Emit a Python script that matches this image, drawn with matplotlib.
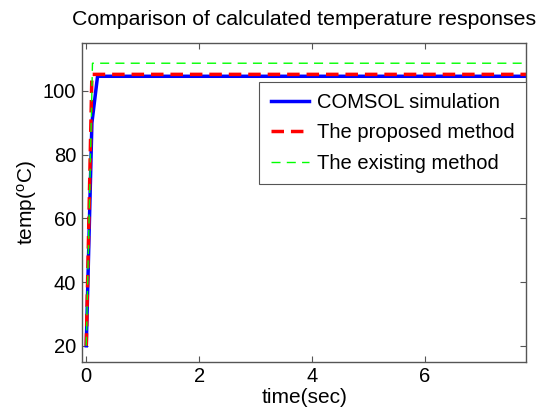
import matplotlib
matplotlib.use("Agg")
import matplotlib.pyplot as plt

plt.rcParams["font.family"] = ["Liberation Sans", "DejaVu Sans"]
plt.rcParams["mathtext.fontset"] = "custom"
plt.rcParams["mathtext.rm"] = "Liberation Sans"

# Temperature responses (time in sec, temperature in degC)
t_comsol = [0.0, 0.1, 0.2, 7.8]
T_comsol = [20.0, 90.0, 104.6, 104.6]

t_proposed = [0.0, 0.1, 7.8]
T_proposed = [20.0, 105.2, 105.2]

t_existing = [0.0, 0.1, 0.11, 7.8]
T_existing = [20.0, 100.0, 108.7, 108.7]

x_ticks = [0, 2, 4, 6]
y_ticks = [20, 40, 60, 80, 100]

fig = plt.figure(figsize=(5.45, 4.11), dpi=100)
ax = fig.add_axes([0.150, 0.120, 0.816, 0.775])

ax.plot(t_comsol, T_comsol, color="#0000ff", lw=2.5, label="COMSOL simulation")
ax.plot(t_proposed, T_proposed, color="#ff0000", lw=2.5, ls=(0, (3.6, 2.0)),
        label="The proposed method")
ax.plot(t_existing, T_existing, color="#00ff00", lw=1.0, ls=(0, (6.5, 4.5)),
        label="The existing method")

ax.set_xlim(-0.08, 7.8)
ax.set_ylim(15, 115)
ax.set_xticks(x_ticks)
ax.set_yticks(y_ticks)

for s in ax.spines.values():
    s.set_color("#555555")
    s.set_linewidth(1.0)
ax.tick_params(direction="in", length=4, width=0.8, color="#555555",
               labelsize=14.5, top=True, right=True, pad=4)

ax.set_xlabel("time(sec)", fontsize=15, labelpad=1)
ax.set_ylabel("temp($\\mathregular{^{o}}$C)", fontsize=15, labelpad=3)
ax.set_title("Comparison of calculated temperature responses", fontsize=15.3, pad=13)

leg = ax.legend(loc="upper right", bbox_to_anchor=(0.998, 0.877), fontsize=14.5,
                frameon=True, fancybox=False, framealpha=1, edgecolor="#555555",
                handlelength=1.9, handletextpad=0.4, borderpad=0.55, labelspacing=0.55,
                borderaxespad=0)
leg.get_frame().set_linewidth(0.8)

fig.savefig("out.png", dpi=100)
